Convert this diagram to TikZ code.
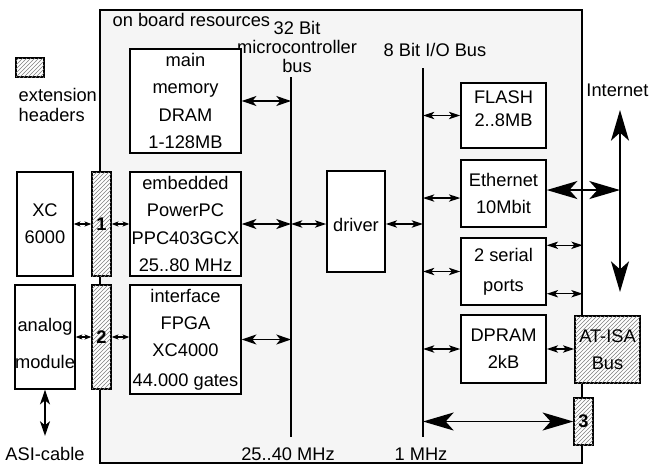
\documentclass[tikz,border=0pt]{standalone}
\usepackage{fontspec}
\setmainfont{Liberation Sans}
\usetikzlibrary{arrows.meta, patterns}
\definecolor{boardgray}{gray}{0.96}

\begin{document}
\begin{tikzpicture}[x=0.75pt, y=-0.75pt,
		font=\fontsize{13.7}{16}\selectfont,
		sized/.style 2 args={minimum width=#1*0.75pt, minimum height=#2*0.75pt},
		box/.style={draw, line width=1.1pt, fill=white, inner sep=0pt, align=center,
			font=\fontsize{13.7}{20.5}\selectfont},
		hatched/.style={draw, line width=1.1pt, fill=white, inner sep=0pt, align=center,
			postaction={pattern=north east lines, pattern color=gray}},
		header/.style={hatched, font=\fontsize{13.7}{16}\selectfont\bfseries},
		bus/.style={line width=1pt},
		tinyarrow/.style={line width=0.8pt,
			{Stealth[length=5pt,width=3.8pt,inset=1.2pt]}-{Stealth[length=5pt,width=3.8pt,inset=1.2pt]}},
		smallarrow/.style={line width=1pt,
			{Stealth[length=8.5pt,width=5.5pt,inset=2.2pt]}-{Stealth[length=8.5pt,width=5.5pt,inset=2.2pt]}},
		medarrow/.style={line width=1.2pt,
			{Stealth[length=11pt,width=7.5pt,inset=3pt]}-{Stealth[length=11pt,width=7.5pt,inset=3pt]}},
		bigarrow/.style={line width=1.2pt,
			{Stealth[length=23pt,width=13.5pt,inset=6pt]}-{Stealth[length=23pt,width=13.5pt,inset=6pt]}}
		]
		\useasboundingbox (0,0) rectangle (650,465);
		
		\node[draw, line width=1pt, fill=boardgray, sized={482}{453}] (board) at (341,236.5) {};
		\node[anchor=west] (res) at (108,20) {on board resources};
		\node[align=center, font=\fontsize{13.7}{14}\selectfont] (b32lab) at (297,47) {32 Bit\\microcontroller\\bus};
		\node (b8lab) at (435,50) {8 Bit I/O Bus};
		\node[anchor=east, inner sep=1pt] (inet) at (650,90) {Internet};
		\node (mhz32) at (288,454) {25..40 MHz};
		\node (mhz8) at (421,454) {1 MHz};
		\node (asi) at (45,454) {ASI-cable};
		
		\node[hatched, sized={28}{19}, line width=0.9pt] (legend) at (30,67.5) {};
		\node[anchor=west, align=left, font=\fontsize{13.7}{15}\selectfont] (legtext) at (14,105) {extension\\headers};
		
		\coordinate (b32t) at (291,77);
		\coordinate (b32b) at (291,437);
		\coordinate (b8t) at (423,68);
		\coordinate (b8b) at (423,437);
		\coordinate (it) at (620,110);
		\coordinate (ib) at (620,292);
		\draw[bus] (b32t) -- (b32b);
		\draw[bus] (b8t) -- (b8b);
		
		\node[box, sized={111}{104}] (mem) at (185.5,101) {main\\memory\\DRAM\\1-128MB};
		\node[box, sized={111}{104}] (ppc) at (185.5,224) {embedded\\PowerPC\\PPC403GCX\\25..80 MHz};
		\node[box, sized={111}{109}] (fpga) at (185.5,339.5) {interface\\FPGA\\XC4000\\[1.5pt]44.000 gates};
		\node[box, sized={56}{104}] (xc) at (45,224) {XC\\6000};
		\node[box, sized={56}{104}] (analog) at (45,337) {\mbox{}\\[-1pt]analog\\[7pt]module};
		\node[header, sized={19}{104}] (h1) at (101.5,224) {1};
		\node[header, sized={19}{104}] (h2) at (101.5,337) {2};
		\node[box, sized={58}{101}] (driver) at (356,221.5) {\mbox{}\\[-6pt]driver};
		\node[box, sized={85}{65}] (flash) at (503.5,115.5) {FLASH\\[-3.5pt]2..8MB\\[-10pt]\mbox{}};
		\node[box, sized={85}{67}] (eth) at (503.5,193.5) {Ethernet\\10Mbit};
		\node[box, sized={85}{67}] (serial) at (503.5,271.5) {2 serial\\[2pt]ports};
		\node[box, sized={85}{68}] (dpram) at (503.5,349) {DPRAM\\2kB};
		\node[hatched, sized={65}{67}, font=\fontsize{13.7}{20.5}\selectfont] (isa) at (607.5,349.5) {AT-ISA\\Bus};
		\node[header, sized={19}{47}] (h3) at (583.5,421.5) {3};
		
		\draw[medarrow] (mem.east) -- (mem.east -| b32t);
		\draw[medarrow] (ppc.east) -- (ppc.east -| b32t);
		\draw[medarrow] (fpga.east) -- (fpga.east -| b32t);
		\draw[smallarrow] (ppc.east -| b32t) -- (ppc.east -| driver.west);
		\draw[smallarrow] (ppc.east -| driver.east) -- (ppc.east -| b8t);
		\draw[smallarrow] (flash.west -| b8t) -- (flash.west);
		\draw[smallarrow] ([yshift=-3.4pt]eth.west -| b8t) -- ([yshift=-3.4pt]eth.west);
		\draw[smallarrow] (serial.west -| b8t) -- (serial.west);
		\draw[smallarrow] (dpram.west -| b8t) -- (dpram.west);
		\draw[smallarrow] ([yshift=-6pt]serial.north east) -- ([yshift=-6pt]serial.north east -| board.east);
		\draw[smallarrow] ([yshift=9pt]serial.south east) -- ([yshift=9pt]serial.south east -| board.east);
		\draw[smallarrow] (dpram.east) -- (dpram.east -| isa.west);
		\draw[bigarrow] (h3.west -| b8t) -- (h3.west);
		\draw[bigarrow] ([yshift=2.6pt]eth.east) -- ([yshift=2.6pt]eth.east -| it);
		\draw[bigarrow] (it) -- (ib);
		\draw[tinyarrow] (xc.east) -- (xc.east -| h1.west);
		\draw[tinyarrow] (h1.east) -- (h1.east -| ppc.west);
		\draw[tinyarrow] (analog.east) -- (analog.east -| h2.west);
		\draw[tinyarrow] (h2.east) -- (h2.east -| fpga.west);
		\draw[medarrow] (analog.south) -- ([yshift=5pt]asi.north);
	\end{tikzpicture}
\end{document}
